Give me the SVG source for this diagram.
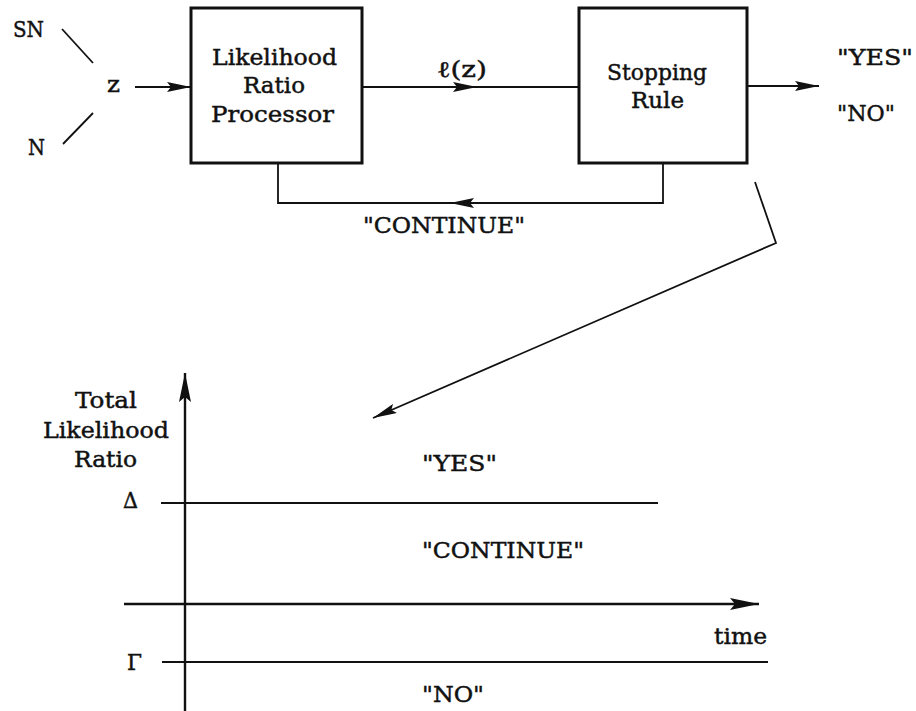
<svg xmlns="http://www.w3.org/2000/svg" width="916" height="711" viewBox="0 0 916 711">
<style>
text{font-family:"DejaVu Serif","Liberation Serif",serif;font-size:22px;fill:#111;stroke:#111;stroke-width:0.45}
.box{fill:#fff;stroke:#111;stroke-width:3}
.ln{fill:none;stroke:#111;stroke-width:1.8}
.ax{fill:none;stroke:#111;stroke-width:2.4}
</style>
<defs>
<marker id="ah" viewBox="0 0 24 10" refX="24" refY="5" markerWidth="24" markerHeight="10" markerUnits="userSpaceOnUse" orient="auto">
<path d="M0,0 L24,5 L0,10 L4,5 z" fill="#111"/>
</marker>
<marker id="ahb" viewBox="0 0 29 12" refX="29" refY="6" markerWidth="29" markerHeight="12" markerUnits="userSpaceOnUse" orient="auto">
<path d="M0,0 L29,6 L0,12 L5,6 z" fill="#111"/>
</marker>
</defs>
<g id="connectors">
<line class="ln" x1="62" y1="29" x2="93" y2="63"/>
<line class="ln" x1="63" y1="144" x2="93" y2="113"/>
<line class="ln" x1="135" y1="87" x2="191" y2="87" marker-end="url(#ah)"/>
<line class="ln" x1="362" y1="87" x2="477" y2="87" marker-end="url(#ah)"/>
<line class="ln" x1="477" y1="87" x2="579" y2="87"/>
<line class="ln" x1="747" y1="86" x2="819" y2="86" marker-end="url(#ah)"/>
<path class="ln" d="M663,163 L663,203 L450,203" marker-end="url(#ah)"/>
<path class="ln" d="M450,203 L278,203 L278,163"/>
<polyline class="ln" points="755,182 776,243 373,418" marker-end="url(#ah)"/>
</g>
<g id="sn"><text x="13" y="37" textLength="31" lengthAdjust="spacingAndGlyphs">SN</text></g>
<g id="n"><text x="28" y="155" textLength="17" lengthAdjust="spacingAndGlyphs">N</text></g>
<g id="z"><text x="107" y="92" textLength="13" lengthAdjust="spacingAndGlyphs">z</text></g>
<g id="lrp">
<rect class="box" x="191" y="8" width="171" height="155"/>
<text x="212" y="65" textLength="125" lengthAdjust="spacingAndGlyphs">Likelihood</text>
<text x="243" y="93" textLength="62" lengthAdjust="spacingAndGlyphs">Ratio</text>
<text x="211" y="122" textLength="123" lengthAdjust="spacingAndGlyphs">Processor</text>
</g>
<g id="lz"><text x="437" y="77" textLength="50" lengthAdjust="spacingAndGlyphs">ℓ(z)</text></g>
<g id="sr">
<rect class="box" x="579" y="8" width="168" height="155"/>
<text x="607" y="80" textLength="100" lengthAdjust="spacingAndGlyphs">Stopping</text>
<text x="631" y="108" textLength="53" lengthAdjust="spacingAndGlyphs">Rule</text>
</g>
<g id="out">
<text x="837" y="65" textLength="76" lengthAdjust="spacingAndGlyphs">"YES"</text>
<text x="837" y="121" textLength="58" lengthAdjust="spacingAndGlyphs">"NO"</text>
</g>
<g id="cont"><text x="363" y="233" textLength="162" lengthAdjust="spacingAndGlyphs">"CONTINUE"</text></g>
<g id="graph">
<line class="ax" x1="185" y1="711" x2="185" y2="373" marker-end="url(#ahb)"/>
<line class="ln" x1="161" y1="503" x2="658" y2="503"/>
<line class="ax" x1="124" y1="604" x2="759" y2="604" marker-end="url(#ahb)"/>
<line class="ln" x1="162" y1="662" x2="768" y2="662"/>
<text x="75" y="408" textLength="62" lengthAdjust="spacingAndGlyphs">Total</text>
<text x="43" y="438" textLength="126" lengthAdjust="spacingAndGlyphs">Likelihood</text>
<text x="74" y="467" textLength="63" lengthAdjust="spacingAndGlyphs">Ratio</text>
<text x="123" y="508" textLength="15" lengthAdjust="spacingAndGlyphs">Δ</text>
<text x="127" y="670" textLength="15" lengthAdjust="spacingAndGlyphs">Γ</text>
<text x="422" y="471" textLength="75" lengthAdjust="spacingAndGlyphs">"YES"</text>
<text x="422" y="558" textLength="162" lengthAdjust="spacingAndGlyphs">"CONTINUE"</text>
<text x="714" y="644" textLength="53" lengthAdjust="spacingAndGlyphs">time</text>
<text x="422" y="702" textLength="62" lengthAdjust="spacingAndGlyphs">"NO"</text>
</g>
</svg>
